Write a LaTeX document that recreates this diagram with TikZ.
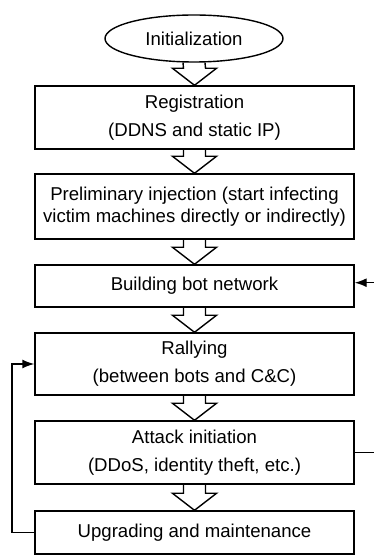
\documentclass[tikz,border=0pt]{standalone}
\usepackage{fontspec}
\setmainfont{Liberation Sans}
\usetikzlibrary{shapes.geometric,arrows.meta,calc}
\newcommand\hollowarrow[2]{\draw[blockarr] ($(#1.south)+(-11,0)$) -- ($(#2.north)+(-11,17)$) -- ($(#2.north)+(-22,17)$) -- (#2.north) -- ($(#2.north)+(22,17)$) -- ($(#2.north)+(11,17)$) -- ($(#1.south)+(11,0)$);}
\begin{document}
\begin{tikzpicture}[x=1pt,y=1pt,
  every node/.style={font=\fontsize{18.6}{28}\selectfont},
  stepbox/.style={draw,line width=1.4pt,minimum width=319pt,inner sep=0pt,align=center},
  startell/.style={draw,ellipse,line width=1.4pt,minimum width=178pt,minimum height=47pt,inner sep=0pt},
  blockarr/.style={line width=1.4pt,line join=miter},
  conn/.style={line width=1.4pt},
  arr/.style={line width=1.4pt,-{Latex[length=12pt,width=9pt]}}]
\useasboundingbox (0,0) rectangle (374,557);
\node[startell] (e) at (194,518.5) {Initialization};
\node[stepbox,minimum height=63pt] (b1) at (194.5,439.5) {Registration\\(DDNS and static IP)};
\node[stepbox,minimum height=65pt,font=\fontsize{18.6}{22}\selectfont] (b2) at (194.5,350.5) {Preliminary injection (start infecting\\victim machines directly or indirectly)};
\node[stepbox,minimum height=42pt] (b3) at (194.5,271) {Building bot network};
\node[stepbox,minimum height=62pt] (b4) at (194.5,193) {Rallying\\(between bots and C\&C)};
\node[stepbox,minimum height=63pt] (b5) at (194.5,104.5) {Attack initiation\\(DDoS, identity theft, etc.)};
\node[stepbox,minimum height=43pt] (b6) at (194.5,24.5) {Upgrading and maintenance};
\hollowarrow{e}{b1}
\hollowarrow{b1}{b2}
\hollowarrow{b2}{b3}
\hollowarrow{b3}{b4}
\hollowarrow{b4}{b5}
\hollowarrow{b5}{b6}
\coordinate (lx) at (12,0);
\draw[arr] (b6.west) -- (lx |- b6.west) -- (lx |- b4.west) -- (b4.west);
\coordinate (rin) at (374,274.3);
\coordinate (rout) at (374,104.5);
\draw[arr] (rin) -- ($(b3.east)+(0,3.3)$);
\draw[conn] (b5.east) -- (rout);
\end{tikzpicture}
\end{document}
